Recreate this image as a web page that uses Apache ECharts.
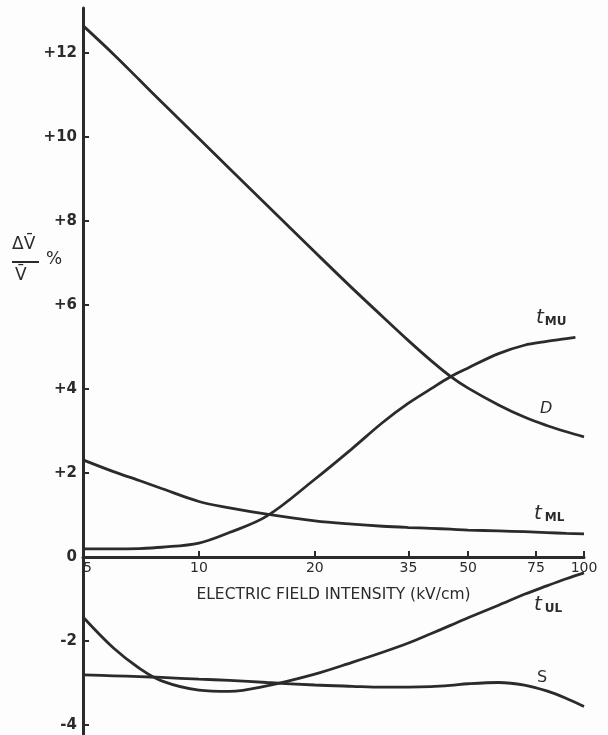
<!DOCTYPE html>
<html>
<head>
<meta charset="utf-8">
<script src="https://cdn.jsdelivr.net/npm/echarts@6/dist/echarts.min.js"></script>
<style>
  html, body { margin: 0; padding: 0; background: #fdfdfd; }
  #chart { width: 608px; height: 735px; }
</style>
</head>
<body>
<div id="chart"></div>
<script>
// field intensity (kV/cm)
var fieldX = [5, 6, 7, 8, 10, 12, 15, 20, 25, 30, 35, 40, 45, 50, 60, 70, 80, 90, 100];
var fieldXMU = [5, 6, 7, 8, 10, 12, 15, 20, 25, 30, 35, 40, 45, 50, 60, 70, 80, 90, 95];
var xTicks = [5, 10, 20, 35, 50, 75, 100];
var yTicks = [-4, -2, 0, 2, 4, 6, 8, 10, 12];

// ΔV/V in %
var dVals   = [12.65, 11.97, 11.36, 10.83, 9.96, 9.25, 8.38, 7.26, 6.4, 5.72, 5.15, 4.68, 4.3, 4.02, 3.62, 3.33, 3.13, 2.98, 2.86];
var tMUVals = [0.19, 0.19, 0.2, 0.23, 0.33, 0.58, 0.97, 1.85, 2.58, 3.2, 3.66, 4.0, 4.29, 4.5, 4.84, 5.04, 5.13, 5.2, 5.23];
var tMLVals = [2.31, 2.03, 1.82, 1.63, 1.32, 1.17, 1.02, 0.86, 0.78, 0.73, 0.7, 0.68, 0.66, 0.64, 0.62, 0.6, 0.58, 0.56, 0.55];
var tULVals = [-1.43, -2.17, -2.65, -2.95, -3.17, -3.2, -3.07, -2.79, -2.51, -2.27, -2.05, -1.83, -1.63, -1.45, -1.15, -0.89, -0.69, -0.52, -0.38];
var sVals   = [-2.81, -2.83, -2.85, -2.87, -2.91, -2.94, -2.99, -3.05, -3.08, -3.1, -3.1, -3.09, -3.06, -3.02, -2.99, -3.05, -3.19, -3.37, -3.56];

var ink = "#2b2b2b";
var font = "DejaVu Sans";

// y range of the plot and where 0 falls, so the x axis can sit on it
var yMin = -4.24, yMax = 13.07;
var gridTop = 8, gridBottom = 0, chartH = 735;

function pairs(xs, ys) {
  return xs.map(function (x, i) { return [x, ys[i]]; });
}

function curve(name, xs, ys) {
  return {
    name: name,
    type: "line",
    smooth: 0.35,
    showSymbol: false,
    lineStyle: { color: ink, width: 2.8 },
    data: pairs(xs, ys)
  };
}

var plotH = chartH - gridTop - gridBottom;
var zeroFromBottom = plotH * (0 - yMin) / (yMax - yMin);

var myChart = echarts.init(document.getElementById("chart"));

var option = {
  backgroundColor: "#fdfdfd",
  animation: false,
  grid: { left: 83, right: 24, top: gridTop, bottom: gridBottom, containLabel: false, outerBoundsMode: "none" },
  xAxis: {
    type: "log",
    logBase: 10,
    min: 5,
    max: 100,
    position: "bottom",
    offset: -zeroFromBottom,
    axisLine: { onZero: false, lineStyle: { color: ink, width: 3 } },
    axisTick: { inside: true, length: 6, lineStyle: { color: ink, width: 2 }, customValues: xTicks },
    axisLabel: {
      customValues: xTicks,
      color: ink, fontFamily: font, fontSize: 14, margin: 4,
      alignMinLabel: "left"
    },
    minorTick: { show: false },
    splitLine: { show: false },
    name: "ELECTRIC FIELD INTENSITY (kV/cm)",
    nameLocation: "middle",
    nameGap: 30,
    nameTextStyle: { color: ink, fontFamily: font, fontSize: 15.5 }
  },
  yAxis: {
    type: "value",
    min: yMin,
    max: yMax,
    axisLine: { show: true, onZero: false, lineStyle: { color: ink, width: 3 } },
    axisTick: { show: true, inside: true, length: 6, lineStyle: { color: ink, width: 2 }, customValues: yTicks },
    axisLabel: {
      customValues: yTicks,
      color: ink, fontFamily: font, fontSize: 15, fontWeight: "bold", margin: 6,
      formatter: function (v) { return v > 0 ? "+" + v : String(v); }
    },
    splitLine: { show: false }
  },
  graphic: [
    { type: "text", left: 12, top: 236, style: { text: "ΔV̄", font: "17px " + font, fill: ink } },
    { type: "line", shape: { x1: 12, y1: 262, x2: 39, y2: 262 }, style: { stroke: ink, lineWidth: 2 } },
    { type: "text", left: 15, top: 267, style: { text: "V̄", font: "17px " + font, fill: ink } },
    { type: "text", left: 46, top: 251, style: { text: "%", font: "17px " + font, fill: ink } },
    {
      type: "text", left: 536, top: 308,
      style: { text: "{t|t}{s|MU}", fill: ink, rich: { t: { font: "italic 20px " + font }, s: { font: "bold 12px " + font, padding: [8, 0, 0, 1] } } }
    },
    { type: "text", left: 540, top: 401, style: { text: "D", font: "italic 16px " + font, fill: ink } },
    {
      type: "text", left: 534, top: 504,
      style: { text: "{t|t}{s|ML}", fill: ink, rich: { t: { font: "italic 20px " + font }, s: { font: "bold 12px " + font, padding: [8, 0, 0, 3] } } }
    },
    {
      type: "text", left: 534, top: 595,
      style: { text: "{t|t}{s|UL}", fill: ink, rich: { t: { font: "italic 20px " + font }, s: { font: "bold 12px " + font, padding: [8, 0, 0, 3] } } }
    },
    { type: "text", left: 537, top: 670, style: { text: "S", font: "16px " + font, fill: ink } }
  ],
  series: [
    curve("D", fieldX, dVals),
    curve("tMU", fieldXMU, tMUVals),
    curve("tML", fieldX, tMLVals),
    curve("tUL", fieldX, tULVals),
    curve("S", fieldX, sVals)
  ]
};

myChart.setOption(option, true);
window.onresize = function () {
  myChart.resize();
};
</script>
</body>
</html>
